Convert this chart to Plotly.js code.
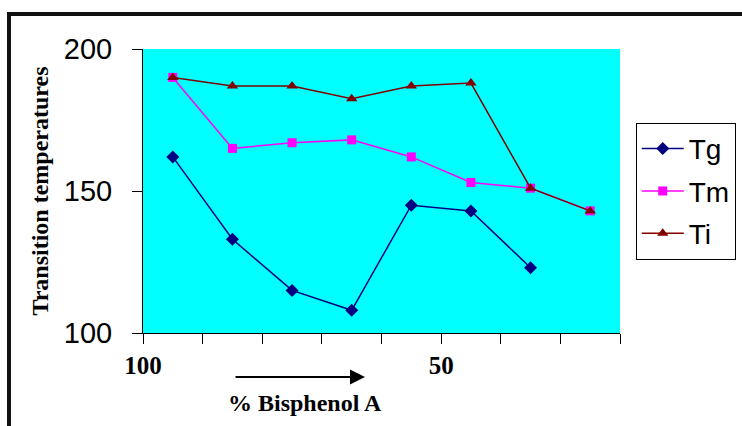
<!DOCTYPE html>
<html>
<head>
<meta charset="utf-8">
<script src="https://cdn.plot.ly/plotly-3.0.1.min.js"></script>
<style>
html,body{margin:0;padding:0;background:#fff;overflow:hidden;}
#chart{position:absolute;left:0;top:0;width:742px;height:426px;}
#frame{position:absolute;left:7px;top:12px;width:900px;height:600px;border:4px solid #111;pointer-events:none;z-index:10;}
</style>
</head>
<body>
<div id="chart"></div>
<div id="frame"></div>
<script>
// sample positions along the % Bisphenol A axis (category slots)
const samples = [1, 2, 3, 4, 5, 6, 7, 8];
const Tg = [162, 133, 115, 108, 145, 143, 123];
const Tm = [190, 165, 167, 168, 162, 153, 151, 143];
const Ti = [190, 187, 187, 182.5, 187, 188, 151, 143];
const xTickVals = [0.5, 1.5, 2.5, 3.5, 4.5, 5.5, 6.5, 7.5, 8.5];
const xTickText = ['100', '', '', '', '', '50', '', '', ''];
const yTickVals = [100, 150, 200];

const traces = [
  {x: samples.slice(0, Tg.length), y: Tg, name: 'Tg', type: 'scatter', mode: 'lines+markers',
   line: {color: '#000080', width: 1.5}, marker: {symbol: 'diamond', size: 10, color: '#000080'},
   legendgroup: 'a'},
  {x: samples, y: Tm, name: 'Tm', type: 'scatter', mode: 'lines+markers',
   line: {color: '#FF00FF', width: 1.5}, marker: {symbol: 'square', size: 9, color: '#FF00FF'},
   legendgroup: 'b'},
  {x: samples, y: Ti, name: 'Ti', type: 'scatter', mode: 'lines+markers',
   line: {color: '#800000', width: 1.5}, marker: {symbol: 'triangle-up', size: 10, color: '#800000'},
   legendgroup: 'c'}
];

const layout = {
  width: 742, height: 426,
  margin: {l: 143, r: 122, t: 49, b: 93, autoexpand: false},
  paper_bgcolor: '#ffffff',
  plot_bgcolor: '#00FFFF',
  showlegend: true,
  legend: {
    x: 1.033, y: 0.74, xanchor: 'left', yanchor: 'top',
    bgcolor: '#ffffff', bordercolor: '#000000', borderwidth: 1,
    font: {family: 'Liberation Sans, Arial, sans-serif', size: 28, color: '#000'},
    itemwidth: 42,
    tracegroupgap: 3
  },
  xaxis: {
    range: [0.5, 8.5], tickmode: 'array', tickvals: xTickVals, ticktext: xTickText,
    ticks: 'outside', ticklen: 10, tickcolor: '#000', tickwidth: 1,
    showline: true, linecolor: '#000', linewidth: 1, showgrid: false, zeroline: false,
    tickfont: {family: 'Liberation Serif, Times New Roman, serif', size: 25, color: '#000', weight: 'bold'}
  },
  yaxis: {
    range: [100, 200], tickmode: 'array', tickvals: yTickVals,
    ticks: 'outside', ticklen: 10, tickcolor: '#000', tickwidth: 1,
    showline: true, linecolor: '#000', linewidth: 1, showgrid: false, zeroline: false,
    ticklabelstandoff: 14,
    tickfont: {family: 'Liberation Sans, Arial, sans-serif', size: 29, color: '#000'},
    title: {text: 'Transition temperatures', standoff: 8,
            font: {family: 'Liberation Serif, Times New Roman, serif', size: 24, color: '#000', weight: 'bold'}}
  },
  annotations: [
    {xref: 'paper', yref: 'paper', x: 0.3396, y: -0.2465, xanchor: 'center', yanchor: 'middle',
     text: '% Bisphenol A', showarrow: false,
     font: {family: 'Liberation Serif, Times New Roman, serif', size: 24, color: '#000', weight: 'bold'}},
    {xref: 'paper', yref: 'paper', x: 0.4654, y: -0.155, ax: -131, ay: 0, text: '',
     showarrow: true, arrowhead: 2, arrowsize: 1.5, arrowwidth: 2, arrowcolor: '#000', standoff: 0}
  ]
};

Plotly.newPlot('chart', traces, layout, {displayModeBar: false, staticPlot: true});
</script>
</body>
</html>
